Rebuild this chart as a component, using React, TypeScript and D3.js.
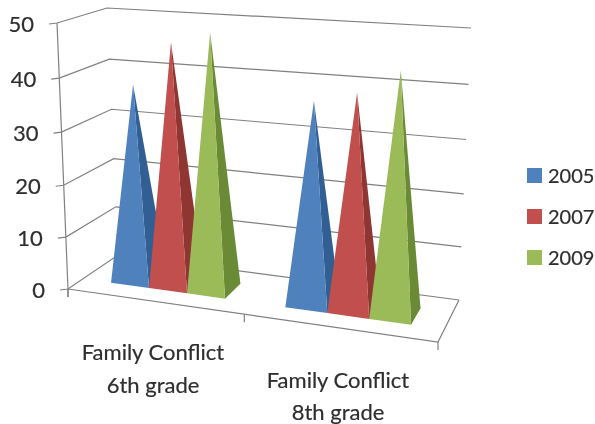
import React from "react";
import * as d3 from "d3";

const categories = [["Family Conflict", "6th grade"], ["Family Conflict", "8th grade"]];
const seriesNames = ["2005", "2007", "2009"];
const values2005 = [37.7, 37.4];
const values2007 = [46.1, 39.5];
const values2009 = [48.4, 44];
const yTicks = [0, 10, 20, 30, 40, 50];

const colors = ["#4f81bd", "#c0504d", "#9bbb59"];
const sideColors = ["#325f93", "#8f3431", "#6a8a36"];
const FONT = "Lato, Carlito, 'Open Sans', sans-serif";
const TEXT = "#2e2e2e";

type P = [number, number];
// Projected corners of the 3D box: floor and ceiling
const floorFL: P = [68, 289], floorFR: P = [438, 342], floorBL: P = [118, 255], floorBR: P = [459, 300];
const topFL: P = [57, 23], topFR: P = [445, 51], topBL: P = [107, 8], topBR: P = [471, 28];

const mix = (a: P, b: P, t: number): P => [a[0] + (b[0] - a[0]) * t, a[1] + (b[1] - a[1]) * t];

// Category position (0..2) to position along the box width, warped for perspective
const uScale = d3.scaleLinear().domain([0, 0.15, 0.85, 1.15, 1.85, 2]).range([0, 0.0776, 0.393, 0.56, 0.908, 1]);
// Value to height in the box
const wScale = d3.scaleLinear().domain(yTicks).range([0, 0.195, 0.39, 0.59, 0.793, 1]);

// Plan position u (width), v (depth), value h
function project(u: number, v: number, h: number): P {
  const floor = mix(mix(floorFL, floorFR, u), mix(floorBL, floorBR, u), v);
  const top = mix(mix(topFL, topFR, u), mix(topBL, topBR, u), v);
  return mix(floor, top, wScale(h));
}

const GROUP_PAD = 0.15;
const V_FRONT = 0.3;
const V_BACK = 0.7;
const bandScale = d3.scaleBand<number>().domain(d3.range(seriesNames.length)).range([GROUP_PAD, 1 - GROUP_PAD]);
const allSeries = [values2005, values2007, values2009];
const path = (pts: P[]) => d3.line()(pts) + "Z";

export default function App() {
  const gridColor = "#808080";
  const lineProps = { stroke: gridColor, strokeWidth: 1.2, fill: "none" };
  const textStyle = { stroke: TEXT, strokeWidth: 0.2 };
  return (
    <svg width={595} height={424} viewBox="0 0 595 424"
      style={{ position: "absolute", left: 0, top: 0, background: "#fff" }}>
      <defs>
        <filter id="soft" x="-5%" y="-5%" width="110%" height="110%">
          <feGaussianBlur stdDeviation="0.55" />
        </filter>
      </defs>
      <g filter="url(#soft)">
        {yTicks.map((t) => {
          const fl = project(0, 0, t), bl = project(0, 1, t), br = project(1, 1, t);
          return (
            <path key={t} d={d3.line()([[fl[0] - 8, fl[1] + 1], fl, bl, br]) as string} {...lineProps} />
          );
        })}
        <path d={d3.line()([project(0, 0, 50), project(0, 0, 0), [floorFL[0], floorFL[1] + 8]]) as string} {...lineProps} />
        <path d={d3.line()([floorBR, floorFR, floorFL]) as string} {...lineProps} />
        {[0, 1, 2].map((c) => {
          const p = project(uScale(c), 0, 0);
          return <line key={c} x1={p[0]} y1={p[1]} x2={p[0]} y2={p[1] + 8} {...lineProps} />;
        })}

        {categories.map((_, c) =>
          seriesNames.map((_, s) => {
            const u0 = uScale(c + bandScale(s)!);
            const u1 = uScale(c + bandScale(s)! + bandScale.bandwidth());
            const um = (u0 + u1) / 2;
            const value = allSeries[s][c];
            const fl = project(u0, V_FRONT, 0), fr = project(u1, V_FRONT, 0), br = project(u1, V_BACK, 0);
            const apex = project(um, 0.5, value);
            return (
              <g key={`${c}-${s}`}>
                <path d={path([fr, br, apex])} fill={sideColors[s]} />
                <path d={path([fl, fr, apex])} fill={colors[s]} />
              </g>
            );
          })
        )}

        {yTicks.map((t) => {
          const p = project(0, 0, t);
          return (
            <text key={t} x={p[0] - 23} y={p[1] + 9} textAnchor="end" fontFamily={FONT} fontSize={22} fill={TEXT} style={textStyle}>{t}</text>
          );
        })}

        {categories.map((lines, c) => {
          const cx = [153, 338][c];
          const ys = [[360, 393], [388, 420]][c];
          return lines.map((l, i) => (
            <text key={i} x={cx} y={ys[i]} textAnchor="middle" fontFamily={FONT} fontSize={22} fill={TEXT} style={textStyle}>{l}</text>
          ));
        })}

        {seriesNames.map((n, i) => {
          const y = 168 + i * 41;
          return (
            <g key={n}>
              <rect x={527} y={y} width={15} height={15} fill={colors[i]} />
              <text x={548} y={y + 15} fontFamily={FONT} fontSize={20} fill={TEXT} style={textStyle}>{n}</text>
            </g>
          );
        })}
      </g>
    </svg>
  );
}
